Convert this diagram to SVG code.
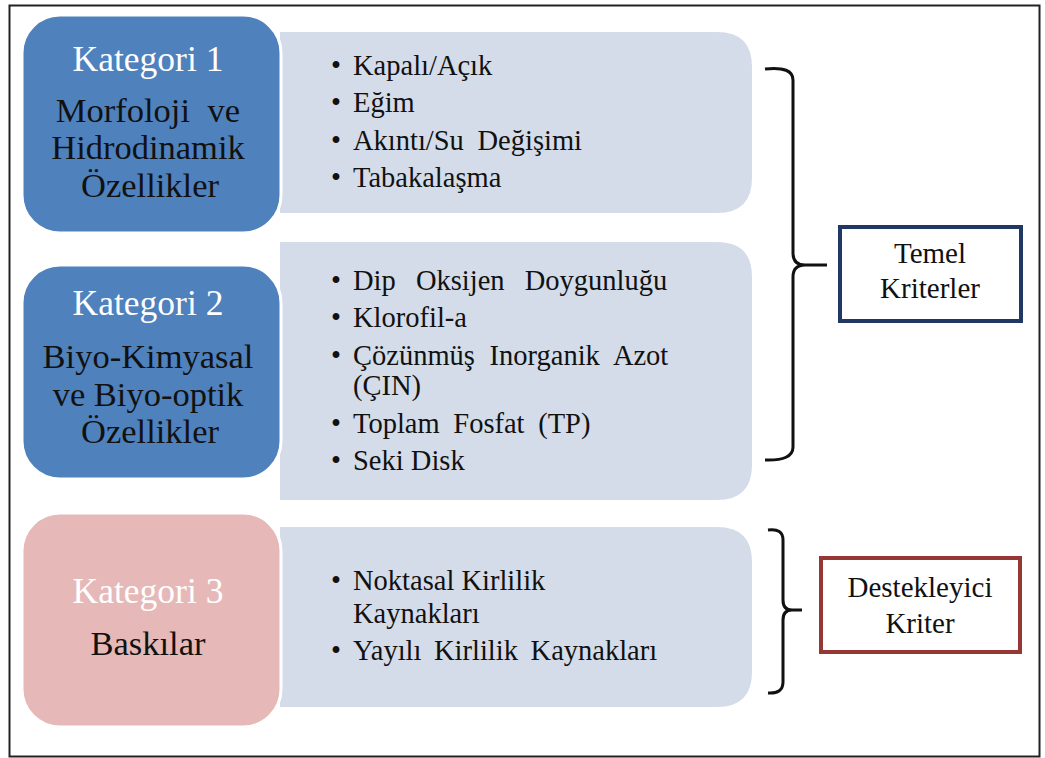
<svg xmlns="http://www.w3.org/2000/svg" width="1045" height="758" viewBox="0 0 1045 758">
<style>
  text { fill: #111; }
  .cat { fill: #4F81BD; stroke: #ffffff; stroke-width: 3; }
  .cat3 { fill: #E6B9B8; stroke: #ffffff; stroke-width: 3; }
  .panel { fill: #D4DCE9; }
  .head { font-size: 35.5px; fill: #ffffff; text-anchor: middle; }
  .body { font-size: 34.5px; text-anchor: middle; }
  .item { font-size: 28.5px; }
  .crit { font-size: 29px; text-anchor: middle; }
  .brace { fill: none; stroke: #111; stroke-width: 3; stroke-linejoin: round; }
</style>
<rect x="0" y="0" width="1045" height="758" fill="#ffffff"/>
<rect x="9.5" y="5.5" width="1030" height="751" fill="none" stroke="#222" stroke-width="2"/>
<g font-family="'Liberation Serif', 'Times New Roman', 'DejaVu Serif', serif">
<g id="panel1">
  <path class="panel" d="M280,32 H717 Q752,32 752,67 V178 Q752,213 717,213 H280 Z"/>
  <text class="item" x="331" y="75">•</text><text class="item" x="353" y="75">Kapalı/Açık</text>
  <text class="item" x="331" y="112">•</text><text class="item" x="353" y="112">Eğim</text>
  <text class="item" x="331" y="150">•</text><text class="item" x="353" y="150" word-spacing="6.5">Akıntı/Su Değişimi</text>
  <text class="item" x="331" y="187">•</text><text class="item" x="353" y="187">Tabakalaşma</text>
</g>
<g id="panel2">
  <path class="panel" d="M280,242 H717 Q752,242 752,277 V465 Q752,500 717,500 H280 Z"/>
  <text class="item" x="331" y="290">•</text><text class="item" x="353" y="290" word-spacing="13">Dip Oksijen Doygunluğu</text>
  <text class="item" x="331" y="327">•</text><text class="item" x="353" y="327">Klorofil-a</text>
  <text class="item" x="331" y="365">•</text><text class="item" x="353" y="365" word-spacing="7.5">Çözünmüş Inorganik Azot</text>
  <text class="item" x="353" y="395">(ÇIN)</text>
  <text class="item" x="331" y="433">•</text><text class="item" x="353" y="433" word-spacing="6.5">Toplam Fosfat (TP)</text>
  <text class="item" x="331" y="470">•</text><text class="item" x="353" y="470">Seki Disk</text>
</g>
<g id="panel3">
  <path class="panel" d="M280,527 H717 Q752,527 752,562 V672 Q752,707 717,707 H280 Z"/>
  <text class="item" x="331" y="590">•</text><text class="item" x="353" y="590">Noktasal Kirlilik</text>
  <text class="item" x="353" y="623">Kaynakları</text>
  <text class="item" x="331" y="660">•</text><text class="item" x="353" y="660" word-spacing="5.5">Yayılı Kirlilik Kaynakları</text>
</g>

<g id="kategori1">
  <rect class="cat" x="22" y="15" width="259" height="218" rx="38" ry="38"/>
  <text class="head" x="148" y="71">Kategori 1</text>
  <text class="body" x="148" y="122" word-spacing="9">Morfoloji ve</text>
  <text class="body" x="148" y="159">Hidrodinamik</text>
  <text class="body" x="150" y="197">Özellikler</text>
</g>
<g id="kategori2">
  <rect class="cat" x="22" y="265" width="259" height="214" rx="38" ry="38"/>
  <text class="head" x="148" y="315">Kategori 2</text>
  <text class="body" x="148" y="368">Biyo-Kimyasal</text>
  <text class="body" x="148" y="406">ve Biyo-optik</text>
  <text class="body" x="150" y="443">Özellikler</text>
</g>
<g id="kategori3">
  <rect class="cat3" x="22" y="513" width="259" height="214" rx="38" ry="38"/>
  <text class="head" x="148" y="603">Kategori 3</text>
  <text class="body" x="148" y="655">Baskılar</text>
</g>

<g id="connectors">
  <path class="brace" d="M765,69 Q793,66 793,80 V253 Q793,265 805,265 H827 M805,265 Q793,265 793,277 V447 Q793,461 765,460"/>
  <path class="brace" d="M768,530 Q783,528 783,540 V600 Q783,610 792,610 H802 M792,610 Q783,610 783,620 V682 Q783,694 768,693"/>
</g>

<g id="temel">
  <rect x="840" y="227" width="181" height="94" fill="#ffffff" stroke="#1F3864" stroke-width="4"/>
  <text class="crit" x="930" y="263">Temel</text>
  <text class="crit" x="930" y="298">Kriterler</text>
</g>
<g id="destekleyici">
  <rect x="821" y="558" width="199" height="94" fill="#ffffff" stroke="#953735" stroke-width="4"/>
  <text class="crit" x="920" y="597">Destekleyici</text>
  <text class="crit" x="920" y="633">Kriter</text>
</g>
</g>
</svg>
